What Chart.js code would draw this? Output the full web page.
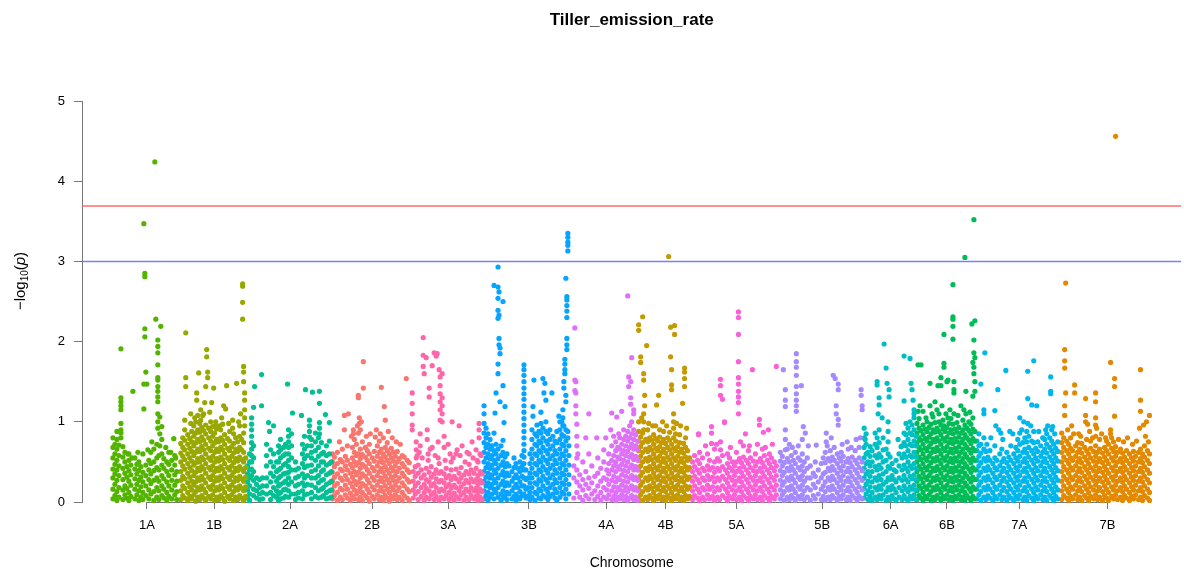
<!DOCTYPE html>
<html>
<head>
<meta charset="utf-8">
<script src="https://cdn.jsdelivr.net/npm/chart.js@4.4.1/dist/chart.umd.min.js"></script>
<style>
  html, body { margin: 0; padding: 0; background: #fff; }
  #wrap { width: 1184px; height: 572px; }
</style>
</head>
<body>
<div id="wrap"><canvas id="manhattan"></canvas></div>
<script>
const titleText = "Tiller_emission_rate";
const xLabel = "Chromosome";

const chromNames = ["1A", "1B", "2A", "2B", "3A", "3B", "4A", "4B", "5A", "5B", "6A", "6B", "7A", "7B"];
const chromLengths = [68, 67, 85, 80, 72, 90, 65, 54, 88, 84, 53, 60, 85, 92];
const chromColors = ["#53B400", "#99A800", "#00C094", "#F8766D", "#FF66A8", "#06A4FF", "#DF70F8",
  "#C49A00", "#FB61D7", "#A58AFF", "#00BFC4", "#00BC56", "#00B6EB", "#E38900"];
const yTicks = [0, 1, 2, 3, 4, 5];
const suggestiveLine = 3.0;
const genomewideLine = 3.69;

// each entry: [position within chromosome, -log10(p) of markers at that position...]
const chr1A = [[42,4.24],[31,3.47],[32,2.85,2.81],[43,2.28],[48,2.19],[32,2.16,2.06],[8,1.91],
  [45,2.02,1.94,1.86,1.71,1.55,1.52,1.44,1.38,1.31,1.25,1.1,1.0,.92],[33,1.62],[31,1.47,1.16],[34,1.47],[20,1.38],
  [8,1.3,1.25,1.2,1.15,.98,.9,.86,.8],[47,1.06,.85,.7],[49,.94,.78],[61,.79],[39,.75],
  [15,.6],[19,.55],[25,.62],[35,.65],[53,.68],[58,.62],[63,.55],
  [0,.04,.16,.3,.41,.55,.68,.8],[2,.08,.22,.35,.47,.6,.72],[4,.02,.13,.27,.4,.52,.66,.78,.88],[6,.06,.18,.33,.45,.58,.71],
  [10,.03,.15,.28,.42,.56,.69],[12,.09,.2,.36,.5,.62],[14,.05,.17,.31,.44],[16,.02,.12,.26,.39,.52,.6],[18,.07,.21,.34,.46],
  [22,.04,.16,.29,.41,.55],[24,.09,.22,.35,.47],[26,.02,.14,.27,.39,.5],[28,.06,.19,.31,.44],[30,.03,.12,.25,.37,.6],
  [33,.08,.2,.33,.46],[36,.04,.15,.28,.4,.52],[38,.1,.23,.35,.48,.62],[41,.02,.13,.27,.39,.5,.66],[44,.06,.18,.3,.43,.55,.72],
  [46,.03,.14,.26,.4,.58],[49,.08,.2,.33,.46,.6],[51,.05,.16,.29,.42,.54],[54,.02,.12,.25,.38,.5],[56,.07,.2,.33,.47,.62],
  [59,.04,.15,.27,.4,.52],[62,.09,.21,.34,.46,.58],[64,.03,.13,.26,.38]];

const chr1B = [[5,2.11],[62,2.72,2.69,2.49,2.28],[26,1.9,1.81],[5,1.55,1.44],[18,1.61],[27,1.62,1.55],[25,1.44],[33,1.42],
  [46,1.45],[56,1.48],[63,1.69,1.62,1.5],[64,1.36,1.27,1.15,1.05,.95],[16,1.36,1.27],[24,1.24],[31,1.24],[43,1.2],[45,1.16],
  [10,1.1,.98],[14,1.05],[20,1.15,1.02],[22,1.08],[29,1.12],[35,1.0,.96],[39,.95],[41,1.05],[48,.98],[52,.92,1.02],[58,1.0],[60,1.1],
  [0,.03,.14,.27,.38,.5,.61,.73],[2,.08,.2,.32,.45,.57,.68,.8],[4,.05,.17,.29,.41,.53,.65,.77,.9,1.02],[7,.02,.12,.24,.36,.48,.6,.72,.84],
  [9,.07,.19,.31,.43,.55,.67,.79],[11,.04,.15,.26,.39,.51,.63,.75,.88],[13,.09,.21,.33,.46,.58,.7,.82,.95],[15,.01,.13,.25,.37,.49,.62,.74,.86,1.0],
  [17,.06,.18,.3,.42,.54,.66,.78,.9,1.08],[19,.03,.15,.27,.39,.5,.63,.75,.87,.98],[21,.08,.2,.32,.44,.56,.69,.81,.93],
  [23,.05,.16,.28,.41,.53,.65,.77,.89,1.1],[25,.02,.12,.24,.36,.48,.6,.72,.85,.96],[28,.07,.19,.31,.43,.55,.67,.8,.92],
  [30,.04,.16,.28,.4,.52,.64,.76,.88,1.0],[32,.09,.21,.33,.45,.57,.7,.82,.94],[34,.02,.14,.26,.38,.5,.62,.74,.86],
  [36,.06,.18,.3,.42,.54,.66,.78,.91],[38,.03,.15,.27,.39,.51,.63,.75],[40,.08,.2,.32,.44,.56,.68,.8,.9],
  [42,.05,.17,.29,.41,.53,.65,.77,.97],[44,.01,.12,.24,.36,.48,.6,.72,.84],[47,.07,.19,.31,.43,.55,.67,.79],
  [49,.04,.16,.28,.4,.52,.64,.76,.88],[51,.09,.21,.33,.45,.57,.69],[53,.02,.13,.25,.37,.49,.61,.73,.85],
  [55,.06,.18,.3,.42,.54,.66,.8],[57,.03,.15,.27,.39,.51,.63,.75],[59,.08,.2,.32,.44,.56,.68,.82,.95],
  [61,.05,.17,.29,.41,.53,.65,.78],[63,.02,.14,.26,.38,.5,.62,.74,.86],[65,.07,.19,.31,.43,.55]];

const chr2A = [[14,1.59],[7,1.44],[40,1.47],[58,1.4],[65,1.37],[72,1.38],[14,1.2],[6,1.18],[45,1.11],[72,1.23],[54,1.08],[78,1.09],
  [62,1.02,.95,.88,.81],[72,.99,.92,.85],[82,.99,.76],[21,.99],[26,.95],[22,.88],
  [4,1.05,.97,.9,.82,.74,.66,.58,.5,.41,.33],[41,.9,.82,.75,.68,.6,.52,.44,.37,.3,.22,.14,.06],[44,.85,.7,.55,.4,.25,.1],
  [64,.78,.7,.62,.55,.46,.38,.3,.21,.12,.04],[68,.86,.75,.64,.52,.4,.3,.18,.07],[71,.8,.68,.57,.45,.33,.24,.14,.05],
  [74,.74,.6,.5,.38,.27,.16,.06],[19,.72,.58,.45,.3,.2,.1],[23,.65,.5,.36,.25,.12,.03],[26,.6,.44,.32,.18,.08],
  [0,.45,.35,.25,.15,.05],[2,.6,.5,.4,.3,.2,.1,.02],[6,.7,.55,.38,.27,.16,.08],[9,.3,.22,.14,.05],[12,.28,.18,.1,.03],
  [15,.3,.2,.12,.04],[29,.5,.38,.26,.14,.06],[31,.7,.62,.5,.4,.3,.2,.1,.02],[33,.78,.65,.55,.42,.32,.22,.12,.04],
  [36,.68,.58,.46,.35,.24,.15,.05],[38,.72,.6,.48,.36,.26,.16,.07],[48,.5,.4,.3,.2,.1,.03],[51,.42,.32,.22,.12,.05],
  [55,.72,.6,.48,.35,.24,.14,.04],[57,.82,.66,.54,.43,.3,.2,.09],[60,.7,.58,.45,.33,.22,.1],[76,.62,.5,.4,.28,.18,.08],
  [79,.7,.58,.46,.34,.22,.12,.04],[82,.6,.48,.36,.24,.14,.05],[84,.5,.38,.26,.15,.06]];

const chr2B = [[31,1.75],[74,1.54],[31,1.42],[49,1.43],[26,1.33,1.3],[52,1.19],[12,1.08],[16,1.1],[27,1.05,.98],[53,1.02],
  [7,.75],[43,.81],[12,.9],
  [21,.9,.85],[25,.95],[29,1.0],[34,.82],[38,.85],[44,.9],[48,.85],[56,.88],[60,.8],[64,.75],[68,.72],[19,.82],
  [0,.04,.14,.26,.37,.5,.6],[2,.08,.2,.31,.44,.56],[5,.02,.12,.23,.35,.48,.62],[8,.06,.17,.3,.41,.53],[10,.03,.15,.27,.39,.5,.66],
  [13,.09,.21,.33,.45,.57],[15,.05,.16,.28,.4,.52,.7],[18,.02,.11,.24,.36,.47],[20,.07,.19,.31,.43,.55,.68],
  [22,.04,.15,.26,.38,.5,.62,.78],[24,.1,.22,.34,.46,.58,.72],[26,.03,.13,.25,.37,.49,.6,.86],[28,.06,.18,.3,.42,.54,.66,.9],
  [30,.02,.12,.23,.35,.47,.59,.75],[33,.08,.2,.32,.44,.56,.68],[35,.05,.16,.28,.4,.52,.64],[37,.01,.12,.24,.36,.48,.6,.72],
  [40,.07,.19,.31,.43,.55],[42,.04,.15,.27,.39,.51,.63],[45,.09,.21,.33,.45,.57,.7],[47,.03,.14,.26,.38,.5,.62,.76],
  [49,.06,.18,.3,.42,.54,.66],[51,.02,.13,.25,.37,.49,.6,.8],[53,.08,.2,.32,.44,.56,.68],[55,.05,.16,.28,.4,.52,.64,.74],
  [57,.01,.12,.24,.36,.48,.6],[59,.07,.19,.31,.43,.55,.67],[61,.04,.15,.27,.39,.51,.62],[63,.09,.21,.33,.45,.57],
  [65,.03,.14,.26,.38,.5,.63],[67,.06,.18,.3,.42,.54],[70,.02,.12,.24,.36,.48,.58],[72,.08,.2,.32,.44,.56],
  [75,.05,.16,.28,.4,.52],[77,.02,.13,.25,.37,.49]];

const chr3A = [[11,2.05],[11,1.83,1.69],[14,1.8],[22,1.86],[24,1.82],[25,1.85],[20,1.7],[27,1.65],[30,1.6],[12,1.6],[17,1.42,1.31],
  [28,1.56,1.45,1.35,1.25,1.15,1.02],[30,1.3,1.2,1.1,1.0],[40,1.0],[47,.95],[0,1.36,1.23,1.1,.96,.9],[4,.75,.65,.55],[67,.98,.9,.8],
  [8,.85,.7],[15,.9,.78],[20,.68],[26,.75],[32,.82,.68],[36,.72],[44,.6],[50,.7],[55,.62],[60,.75],[64,.65],
  [5,.58],[7,.62],[10,.55],[16,.6,.52],[18,.66],[23,.58],[26,.55],[33,.52],[38,.6],[41,.55],[45,.65],[48,.58],[53,.5],[57,.6],[61,.55],[65,.52],[69,.58],
  [1,.05,.15,.26,.38],[3,.1,.2,.32,.44],[6,.03,.13,.24,.36,.46],[9,.07,.18,.3,.4],[12,.02,.12,.22,.34],[14,.06,.17,.28,.42],
  [17,.04,.14,.25,.37],[19,.09,.2,.31,.44],[22,.03,.12,.23,.35],[24,.07,.18,.29,.4],[27,.02,.13,.25,.36,.48],[29,.06,.16,.27,.38],
  [32,.04,.14,.24,.35],[34,.08,.19,.3,.42],[37,.03,.12,.22,.33],[39,.06,.17,.28,.4,.5],[42,.02,.11,.21,.32],[44,.07,.18,.29,.41],
  [47,.04,.14,.25,.36],[49,.09,.19,.3,.43],[52,.02,.12,.23,.34],[54,.06,.16,.27,.38],[57,.03,.13,.24,.35,.47],[59,.08,.18,.29,.4],
  [62,.04,.14,.25,.36],[64,.07,.17,.28,.42],[66,.02,.12,.22,.33,.5],[68,.06,.16,.27,.38,.6],[70,.03,.13,.24,.35]];

const chr3B = [[14,2.93],[10,2.7],[14,2.68],[15,2.62],[14,2.54],[19,2.5],[14,2.39],[15,2.33],[14,2.29],[15,2.04,1.96],[16,1.92,1.85],
  [14,1.72,1.6],[19,1.45],[12,1.36],[16,1.25],[21,1.19],[11,1.11],[20,.99],[10,.86],[19,.77],
  [40,1.71,1.65,1.58,1.5,1.42,1.35,1.28,1.2,1.12,1.04,.96,.88,.8,.72,.64,.56,.48,.4,.3,.2,.1],
  [50,1.52],[59,1.54],[61,1.48],[60,1.36],[62,1.27],[68,1.36],[49,1.19,1.07],[75,1.07],[78,1.0],
  [84,3.35,3.3,3.24,3.2,3.13],[82,2.79],[83,2.56,2.52,2.45,2.38,2.3],[83,2.04,1.96,1.9],[81,1.78,1.72,1.65,1.6],[80,1.5,1.42],
  [82,1.33,1.25],[79,1.15,1.05,.95],[84,.88,.8],
  [0,1.2,1.1,.98,.86,.74,.62,.5,.38,.26,.14,.04],[2,.92,.8,.68,.55,.43,.31,.2,.08],[4,.85,.72,.6,.48,.36,.24,.12,.02],
  [6,.78,.66,.54,.42,.3,.18,.06],[8,.7,.58,.46,.34,.22,.1],[10,.64,.52,.4,.28,.16,.04],[12,.72,.6,.48,.36,.24,.12],
  [14,.66,.54,.42,.3,.18,.06],[17,.7,.58,.46,.34,.22,.1,.02],[19,.62,.5,.38,.26,.14,.05],[21,.56,.44,.32,.2,.08],
  [23,.6,.48,.36,.24,.12,.03],[25,.45,.33,.21,.1],[28,.38,.26,.14,.04],[30,.55,.43,.3,.18,.07],[32,.48,.34,.22,.1,.02],
  [34,.42,.3,.18,.06],[36,.5,.38,.25,.13,.04],[38,.58,.44,.32,.2,.08],[42,.4,.28,.16,.05],[44,.3,.18,.07],
  [46,.6,.48,.36,.24,.12,.03],[48,.9,.78,.66,.54,.42,.3,.18,.06],[51,.85,.72,.6,.48,.36,.24,.12,.02],
  [53,.96,.82,.7,.58,.46,.34,.22,.1],[55,.88,.76,.64,.52,.4,.28,.16,.05],[57,1.12,.98,.86,.74,.62,.5,.38,.26,.14,.04],
  [59,.92,.8,.68,.56,.44,.32,.2,.08],[62,1.0,.88,.76,.64,.52,.4,.28,.16,.06],[64,.85,.72,.6,.48,.36,.24,.12,.03],
  [66,.9,.78,.66,.54,.42,.3,.18,.07],[69,.82,.7,.58,.46,.34,.22,.1],[71,.76,.64,.52,.4,.28,.16,.05],
  [73,.88,.74,.6,.48,.36,.24,.12,.02],[76,1.0,.9,.78,.66,.54,.42,.3,.18,.06],[78,.84,.72,.6,.48,.36,.24,.12],
  [80,.95,.82,.7,.58,.46,.34,.22,.1],[82,.9,.76,.64,.52,.4,.28,.16,.04],[85,.7,.58,.46,.34,.22,.1]];

const chr4A = [[54,2.57],[1,2.17],[58,1.8],[55,1.56,1.44],[57,1.5],[2,1.5,1.36],[2,1.2,1.1],[15,1.1],[38,1.11],[48,1.13],[43,1.06],
  [57,1.3,1.22],[60,1.15,1.1],[3,.97,.82],[37,.9],[45,.85],[40,.82],[12,.8],[23,.8],[32,.8],[1,1.52,1.39],[4,.6],
  [0,.05,.3,.45],[3,.12,.25,.4,.55,.7],[6,.06,.2,.34],[9,.02,.15,.28,.5],[12,.08,.22,.38],[15,.04,.17,.3,.6],[18,.1,.24,.45],
  [21,.03,.14,.32],[24,.07,.2,.36,.55],[27,.02,.12,.26,.42],[30,.06,.18,.3,.5,.65],[33,.04,.15,.28,.4],[35,.09,.22,.35,.48,.6],
  [38,.03,.14,.27,.4,.52,.7],[40,.07,.19,.32,.45,.58],[42,.02,.12,.25,.38,.5,.64,.75],[44,.06,.18,.3,.44,.56,.68],
  [46,.04,.15,.28,.41,.54,.66,.8],[48,.09,.21,.34,.47,.6,.72],[50,.03,.14,.26,.39,.52,.64,.78,.9],[52,.07,.19,.32,.45,.58,.7,.82],
  [54,.02,.13,.25,.38,.5,.63,.76,.88],[56,.05,.17,.3,.43,.56,.68,.8,.95],[58,.08,.2,.33,.46,.59,.72,.85,1.0],
  [60,.03,.15,.28,.4,.53,.66,.78,.9],[62,.06,.18,.31,.44,.57,.7,.84],[64,.02,.14,.27,.4,.52,.65,.76]];

const chr4B = [[30,3.06],[4,2.31],[0,2.21,2.14],[32,2.18],[36,2.2,2.09],[8,1.95],[2,1.81,1.74],[32,1.81],[5,1.6,1.52],[33,1.65],
  [46,1.67,1.62,1.54,1.44],[33,1.46,1.4],[6,1.33,1.2],[20,1.33],[18,1.21],[44,1.23],[35,1.1,1.0,.92],[5,1.1,1.0,.9],
  [3,1.05],[10,.98],[14,.95],[24,1.0],[28,.95],[38,.98],[42,.95],[48,.92],
  [0,.04,.16,.28,.4,.52,.64,.76,.88,1.0],[2,.09,.21,.33,.45,.57,.69,.81],[4,.02,.13,.25,.37,.5,.62,.74,.86],
  [7,.06,.18,.3,.42,.54,.66,.78],[9,.03,.15,.27,.39,.51,.63,.75,.9],[11,.08,.2,.32,.44,.56,.68,.8],[13,.05,.17,.29,.41,.53,.65,.77],
  [15,.02,.12,.24,.36,.48,.6,.72,.84],[17,.07,.19,.31,.43,.55,.67,.79,.95],[19,.04,.16,.28,.4,.52,.64,.76],
  [21,.09,.21,.33,.45,.57,.69,.81,.9],[23,.03,.14,.26,.38,.5,.62,.74],[25,.06,.18,.3,.42,.54,.66,.78,.88],
  [27,.02,.13,.25,.37,.49,.61,.73],[29,.08,.2,.32,.44,.56,.68,.8],[31,.05,.17,.29,.41,.53,.65,.77,.87],[33,.02,.12,.24,.36,.48,.6,.72],
  [35,.07,.19,.31,.43,.55,.67,.8],[37,.04,.16,.28,.4,.52,.64,.76,.85],[39,.09,.21,.33,.45,.57,.69],[41,.03,.14,.26,.38,.5,.62,.74,.84],
  [43,.06,.18,.3,.42,.54,.66],[45,.02,.13,.25,.37,.49,.61,.73],[47,.08,.2,.32,.44,.56,.68,.8],[49,.04,.16,.28,.4,.52,.64],
  [51,.07,.19,.31,.43,.55]];

const chr5A = [[46,2.37,2.3,2.09,1.75,1.55,1.47,1.38,1.31,1.24,1.1],[60,1.65],[84,1.69],[28,1.53,1.45,1.33],[30,1.28],[32,.99,1.0],
  [67,1.03,.96],[19,.94,.86,.73],[53,.85],[76,.9],[71,.87],[6,.85,.84],[28,.75,.65],
  [13,.7],[24,.72],[38,.68],[48,.75],[57,.7],[73,.68],[80,.72],
  [0,.03,.14,.26,.38,.5],[2,.08,.2,.32,.44,.58],[5,.05,.16,.28,.4,.52],[7,.02,.12,.24,.36,.48,.62],[10,.06,.18,.3,.42,.55],
  [12,.03,.15,.27,.39],[15,.09,.21,.33,.45,.6],[17,.04,.16,.28,.4,.52],[20,.07,.19,.31,.43],[22,.02,.13,.25,.37,.5,.66],
  [25,.06,.18,.3,.42,.54],[27,.03,.15,.27,.39,.51],[30,.08,.2,.32,.44,.58],[33,.05,.16,.28,.4],[35,.02,.12,.24,.36,.48,.6],
  [37,.07,.19,.31,.43,.55],[40,.04,.15,.27,.39,.5],[42,.09,.21,.33,.45],[44,.03,.14,.26,.38,.5,.62],[47,.06,.18,.3,.42,.54],
  [49,.02,.13,.25,.37,.49],[51,.08,.2,.32,.44,.56,.7],[54,.05,.16,.28,.4,.52],[56,.02,.12,.24,.36,.48,.64],[58,.07,.19,.31,.43,.55],
  [61,.04,.15,.27,.39,.51],[63,.09,.21,.33,.45,.6],[65,.03,.14,.26,.38,.5,.72],[68,.06,.18,.3,.42,.54],[70,.02,.13,.25,.37,.49,.66],
  [72,.08,.2,.32,.44,.58],[75,.05,.16,.28,.4,.52],[77,.02,.12,.24,.36,.48,.6],[79,.07,.19,.31,.43,.55],[82,.04,.15,.27,.39,.5],
  [84,.09,.21,.33,.45]];

const chr5B = [[16,1.85,1.75,1.68,1.58,1.44,1.35,1.27,1.2,1.13],[3,1.65],[53,1.58],[55,1.54],[58,1.47,1.4],[21,1.45],[5,1.4,1.27,1.19],
  [56,1.2,1.1],[58,1.03,.96],[81,1.4,1.33],[82,1.2,1.15],[23,.94],[25,.86],[36,.71],[46,.86,.75],[5,.9,.78,.65],
  [9,.72],[12,.68],[28,.7],[47,.7],[51,.8],[62,.72],[67,.75],[71,.68],[76,.78],[80,.8],
  [0,.04,.15,.27,.39,.51,.62],[2,.09,.21,.33,.45,.57],[4,.02,.13,.25,.37,.49],[7,.06,.18,.3,.42,.54,.66],[9,.03,.15,.27,.39,.5],
  [11,.08,.2,.32,.44,.58],[13,.05,.16,.28,.4,.52],[15,.02,.12,.24,.36,.48,.62],[18,.07,.19,.31,.43,.55,.7],[20,.04,.16,.28,.4,.52],
  [22,.09,.21,.33,.45,.6,.78],[24,.03,.14,.26,.38,.5],[27,.06,.18,.3,.42,.55],[30,.02,.15,.3,.45],[33,.08,.22,.36],[35,.04,.18,.32,.5],
  [38,.1,.25,.4],[41,.03,.16,.3,.48],[43,.07,.2,.35,.55],[45,.02,.13,.25,.37,.49,.62],[48,.06,.18,.3,.42,.54],
  [50,.03,.15,.27,.39,.51,.64],[52,.08,.2,.32,.44,.56],[54,.05,.16,.28,.4,.52,.68],[57,.02,.12,.24,.36,.48,.6],
  [59,.07,.19,.31,.43,.55],[61,.04,.15,.27,.39,.51,.62],[63,.09,.21,.33,.45,.57],[66,.03,.14,.26,.38,.5],[68,.06,.18,.3,.42,.54,.66],
  [70,.02,.13,.25,.37,.49],[72,.08,.2,.32,.44,.56],[75,.05,.16,.28,.4,.52,.64],[77,.02,.12,.24,.36,.48],[79,.07,.19,.31,.43,.55,.68],
  [82,.04,.15,.27,.39,.5]];

const chr6A = [[20,1.97],[40,1.82],[46,1.79],[22,1.67],[13,1.5,1.46],[23,1.48],[25,1.4,1.31],[47,1.48],[48,1.4],[49,1.27],[15,1.3,1.21],
  [40,1.26],[50,1.15,1.1,1.05],[14,1.1],[18,1.05],[24,1.0],[1,.78],[6,.69],[34,.78],[37,.69],
  [0,.05,.17,.3,.42,.55,.68,.8,.92],[2,.1,.22,.35,.48,.6,.72,.85],[4,.03,.14,.26,.38,.5,.62],[6,.07,.19,.32,.45,.57],
  [8,.02,.12,.25,.38,.5,.64],[11,.06,.18,.3,.44,.58,.72,.86],[13,.03,.15,.27,.4,.55,.68,.8],[15,.08,.2,.33,.46,.6,.74,.9],
  [17,.04,.16,.28,.42,.56],[19,.09,.22,.35,.5,.65,.8],[22,.02,.13,.25,.38,.52,.66],[24,.06,.18,.3,.44,.6,.75,.88],
  [26,.03,.15,.28,.42,.56],[28,.08,.2,.33,.48],[30,.04,.16,.28,.4],[32,.02,.12,.25,.38,.52],[35,.06,.18,.3,.45,.6],
  [38,.03,.14,.27,.4,.55,.7],[40,.08,.2,.33,.46,.6,.74,.86],[42,.04,.16,.28,.42,.56,.7,.84,.98],[44,.02,.13,.25,.38,.5,.64,.78,.92],
  [46,.07,.19,.32,.45,.58,.72,.86,1.0],[48,.04,.16,.29,.42,.56,.7,.84,.96],[50,.09,.21,.34,.48,.62,.76,.9],
  [52,.03,.15,.28,.42,.56,.7,.82]];

const chr6B = [[57,3.52],[48,3.05],[36,2.71],[36,2.31,2.28,2.19,2.03],[27,2.09],[58,2.26],[55,2.22],[57,2.02,1.86],[58,1.8],[56,1.74],
  [57,1.68,1.6],[58,1.5],[27,1.73,1.68],[24,1.55],[31,1.52],[37,1.5],[30,1.5],[13,1.48],[21,1.45],[24,1.45],[37,1.4,1.36],[49,1.38],
  [58,1.38],[56,1.32],[1,1.71],[4,1.71],[1,1.13],[6,1.13],[22,1.1],[31,1.05],[37,1.1],[27,.95],[49,1.1],[13,1.2],[18,1.25],[44,1.2],
  [3,1.2],[9,1.05],[15,1.1],[20,1.15],[25,1.2],[29,1.1],[33,1.15],[41,1.08],[47,1.15],[53,1.12],
  [0,.03,.14,.26,.38,.5,.62,.74,.86,.98],[2,.08,.2,.32,.44,.56,.68,.8,.92,1.04],[4,.05,.17,.29,.41,.53,.65,.77,.89],
  [6,.02,.12,.24,.36,.48,.6,.72,.84,.96],[8,.07,.19,.31,.43,.55,.67,.79,.91],[10,.04,.16,.28,.4,.52,.64,.76,.88,1.0],
  [12,.09,.21,.33,.45,.57,.69,.81,.93],[14,.02,.13,.25,.37,.49,.61,.73,.85,.97],[16,.06,.18,.3,.42,.54,.66,.78,.9,1.06],
  [18,.03,.15,.27,.39,.51,.63,.75,.87,.99],[20,.08,.2,.32,.44,.56,.68,.8,.92],[22,.05,.16,.28,.4,.52,.64,.76,.88,1.0],
  [24,.02,.12,.24,.36,.48,.6,.72,.84,.96],[26,.07,.19,.31,.43,.55,.67,.79,.91,1.02],[28,.04,.16,.28,.4,.52,.64,.76,.88],
  [30,.09,.21,.33,.45,.57,.69,.81,.93],[32,.03,.14,.26,.38,.5,.62,.74,.86,.98],[34,.06,.18,.3,.42,.54,.66,.78,.9,1.04],
  [36,.02,.13,.25,.37,.49,.61,.73,.85,.97],[38,.07,.19,.31,.43,.55,.67,.79,.91],[40,.04,.15,.27,.39,.51,.63,.75,.87,.99],
  [42,.09,.21,.33,.45,.57,.69,.81,.93],[44,.03,.14,.26,.38,.5,.62,.74,.86],[46,.06,.18,.3,.42,.54,.66,.78,.9,1.02],
  [48,.02,.12,.24,.36,.48,.6,.72,.84,.96],[50,.08,.2,.32,.44,.56,.68,.8,.92],[52,.05,.17,.29,.41,.53,.65,.77,.89,1.0],
  [54,.02,.13,.25,.37,.49,.61,.73,.85,.97],[56,.07,.19,.31,.43,.55,.67,.79,.91,1.05],[58,.04,.16,.28,.4,.52,.64,.76,.88]];

const chr7A = [[8,1.86],[57,1.76],[29,1.64],[51,1.63],[74,1.56],[4,1.47],[21,1.4],[74,1.38,1.35],[51,1.29],[55,1.21],[60,1.2],[18,1.14],
  [7,1.15,1.1],[33,.88],[43,1.05],[47,1.0],[51,.98],[54,.95],[19,.95],[22,.9],[24,.86],[71,.95],[76,.94],
  [10,.72],[14,.8],[26,.78],[36,.85],[45,.9],[62,.88],[69,.9],[78,.85],
  [0,.04,.16,.28,.4,.52,.64,.76],[2,.09,.21,.33,.45,.57,.7,.85],[4,.02,.13,.25,.37,.49,.61,.72],[7,.06,.18,.3,.42,.54,.66,.8],
  [9,.03,.15,.27,.39,.51,.63],[11,.08,.2,.32,.44,.56],[13,.05,.16,.28,.4,.52,.64],[16,.02,.12,.24,.36,.48],[18,.07,.19,.31,.43,.55,.7],
  [20,.04,.16,.28,.4,.52],[23,.09,.21,.33,.45,.6],[25,.03,.14,.26,.38,.5,.66],[27,.06,.18,.3,.42,.54],[30,.02,.13,.25,.37,.49,.62],
  [32,.08,.2,.32,.44,.56],[34,.05,.16,.28,.4,.52,.7],[37,.02,.12,.24,.36,.48,.6],[39,.07,.19,.31,.43,.55,.68],
  [41,.04,.15,.27,.39,.51,.64,.78],[43,.09,.21,.33,.45,.57,.72,.86],[46,.03,.14,.26,.38,.5,.62,.74],[48,.06,.18,.3,.42,.54,.66,.8],
  [50,.02,.13,.25,.37,.49,.61,.75,.88],[52,.08,.2,.32,.44,.56,.68,.82],[55,.05,.16,.28,.4,.52,.64,.76],
  [57,.02,.12,.24,.36,.48,.6,.74,.88],[59,.07,.19,.31,.43,.55,.67],[61,.04,.15,.27,.39,.51,.63,.75],[64,.09,.21,.33,.45,.57,.7],
  [66,.03,.14,.26,.38,.5,.62,.8],[68,.06,.18,.3,.42,.54,.66,.78],[70,.02,.13,.25,.37,.49,.61,.72,.85],[73,.08,.2,.32,.44,.56,.68,.8],
  [75,.05,.16,.28,.4,.52,.64,.76,.9],[77,.02,.12,.24,.36,.48,.6,.72],[79,.07,.19,.31,.43,.55,.67],[81,.04,.15,.27,.39,.51,.63,.75]];

const chr7B = [[54,4.56],[4,2.73],[3,1.9,1.76,1.67],[49,1.74],[79,1.65],[53,1.54,1.44],[13,1.46,1.36],[4,1.36],[24,1.29],[34,1.36,1.25],
  [79,1.27,1.13],[3,1.2,1.08],[53,1.07],[88,1.08],[85,1.0],[82,.96],[78,.92],[24,1.08,1.0],[26,.97],[34,1.05,.96],[35,.92],[12,.85],
  [17,.85],[49,.9,.85],
  [6,.9],[10,.95],[19,.82],[28,.88],[31,.8],[40,.85],[44,.8],[57,.78],[62,.75],[66,.8],[71,.72],[75,.76],[84,.82],[87,.75],
  [0,.03,.14,.26,.38,.5,.62,.74,.86],[2,.08,.2,.32,.44,.56,.68,.8],[5,.05,.16,.28,.4,.52,.64,.76],[7,.02,.12,.24,.36,.48,.6,.72],
  [9,.07,.19,.31,.43,.55,.67,.8],[11,.04,.16,.28,.4,.52,.64],[14,.09,.21,.33,.45,.57,.7],[16,.03,.14,.26,.38,.5,.62,.74],
  [18,.06,.18,.3,.42,.54,.66],[20,.02,.13,.25,.37,.49,.61,.73],[23,.08,.2,.32,.44,.56,.68],[25,.05,.16,.28,.4,.52,.64,.78],
  [27,.02,.12,.24,.36,.48,.6],[29,.07,.19,.31,.43,.55,.67,.76],[32,.04,.15,.27,.39,.51,.63],[34,.09,.21,.33,.45,.57,.7,.82],
  [36,.03,.14,.26,.38,.5,.62],[38,.06,.18,.3,.42,.54,.66,.78],[41,.02,.13,.25,.37,.49,.61],[43,.08,.2,.32,.44,.56,.68],
  [45,.05,.16,.28,.4,.52,.64,.76],[47,.02,.12,.24,.36,.48,.6,.72],[50,.07,.19,.31,.43,.55,.67,.8],[52,.04,.15,.27,.39,.51,.63,.75],
  [54,.09,.21,.33,.45,.57,.69],[56,.03,.14,.26,.38,.5,.62],[59,.06,.18,.3,.42,.54,.66],[61,.02,.13,.25,.37,.49,.61],
  [63,.08,.2,.32,.44,.56],[65,.05,.16,.28,.4,.52,.64],[68,.02,.12,.24,.36,.48,.6],[70,.07,.19,.31,.43,.55],
  [72,.04,.15,.27,.39,.51,.63],[74,.09,.21,.33,.45,.57],[77,.03,.14,.26,.38,.5,.62],[79,.06,.18,.3,.42,.54,.66],
  [81,.02,.13,.25,.37,.49,.6],[83,.08,.2,.32,.44,.56,.7],[86,.05,.16,.28,.4,.52,.64],[88,.02,.12,.24,.36,.48,.6]];

const chromData = [chr1A, chr1B, chr2A, chr2B, chr3A, chr3B, chr4A, chr4B, chr5A, chr5B, chr6A, chr6B, chr7A, chr7B];

// x range pads the genome on both sides like base R does
const xMin = -31, xMax = 1071;

const FONT = '"Liberation Sans", Arial, Helvetica, sans-serif';

let datasets = [];
let centers = [];
let offset = 0;
chromNames.forEach((name, i) => {
  const pts = [];
  chromData[i].forEach(([pos, ...vals]) => vals.forEach(v => pts.push({ x: offset + pos, y: v })));
  datasets.push({
    type: "scatter",
    label: name,
    data: pts,
    backgroundColor: chromColors[i],
    borderWidth: 0,
    pointRadius: 2.6,
    pointHoverRadius: 2.6,
    clip: false
  });
  centers.push(offset + chromLengths[i] / 2);
  offset += chromLengths[i];
});

function hline(y, color) {
  return {
    type: "line",
    data: [{ x: xMin, y }, { x: xMax, y }],
    borderColor: color,
    borderWidth: 1.5,
    pointRadius: 0,
    order: -1
  };
}
datasets.push(hline(genomewideLine, "rgba(255,80,80,0.85)"));
datasets.push(hline(suggestiveLine, "rgba(110,110,255,0.9)"));

const texts = {
  id: "texts",
  beforeDatasetsDraw(chart) {
    // x axis line runs from the first to the last chromosome tick, as in base R
    const { ctx, chartArea: a, scales: { x } } = chart;
    const t = x.ticks;
    ctx.save();
    ctx.strokeStyle = "#777";
    ctx.lineWidth = 1;
    ctx.beginPath();
    ctx.moveTo(x.getPixelForValue(t[0].value), a.bottom + 0.5);
    ctx.lineTo(x.getPixelForValue(t[t.length - 1].value), a.bottom + 0.5);
    ctx.stroke();
    ctx.restore();
  },
  afterDraw(chart) {
    const { ctx, chartArea: a } = chart;
    const cx = (a.left + a.right) / 2;
    ctx.save();
    ctx.fillStyle = "#000";
    ctx.textAlign = "center";
    ctx.textBaseline = "middle";
    ctx.font = "bold 17px " + FONT;
    ctx.fillText(titleText, cx, 20);
    ctx.font = "14px " + FONT;
    ctx.fillText(xLabel, cx, a.bottom + 61);

    // -log10(p) with subscript and italic p
    const parts = [
      { s: "\u2212log", f: "15px " + FONT, dy: 0 },
      { s: "10", f: "10px " + FONT, dy: 4 },
      { s: "(", f: "15px " + FONT, dy: 0 },
      { s: "p", f: "italic 15px " + FONT, dy: 0 },
      { s: ")", f: "15px " + FONT, dy: 0 }
    ];
    let total = 0;
    parts.forEach(p => { ctx.font = p.f; p.w = ctx.measureText(p.s).width; total += p.w; });
    ctx.translate(21, 281);
    ctx.rotate(-Math.PI / 2);
    ctx.textAlign = "left";
    let px = -total / 2;
    parts.forEach(p => {
      ctx.font = p.f;
      ctx.fillText(p.s, px, p.dy);
      px += p.w;
    });
    ctx.restore();
  }
};

new Chart(document.getElementById("manhattan"), {
  data: { datasets },
  options: {
    responsive: true,
    maintainAspectRatio: false,
    animation: false,
    events: [],
    layout: { padding: { top: 101, left: 0, right: 0, bottom: 0 } },
    plugins: { legend: { display: false }, tooltip: { enabled: false }, title: { display: false } },
    scales: {
      x: {
        type: "linear",
        min: xMin,
        max: xMax,
        afterBuildTicks: s => { s.ticks = centers.map(v => ({ value: v })); },
        afterFit: s => { s.height = 70; },
        ticks: {
          autoSkip: false,
          maxRotation: 0,
          padding: 9,
          color: "#000",
          font: { family: FONT, size: 13 },
          callback: (v, i) => chromNames[i]
        },
        grid: { display: true, drawOnChartArea: false, drawTicks: true, tickLength: 7, color: "#777" },
        border: { display: false }
      },
      y: {
        type: "linear",
        min: 0,
        max: 5,
        afterBuildTicks: s => { s.ticks = yTicks.map(v => ({ value: v })); },
        afterFit: s => { s.width = 82; },
        ticks: { padding: 9, color: "#000", font: { family: FONT, size: 13 } },
        grid: { display: true, drawOnChartArea: false, drawTicks: true, tickLength: 8, color: "#777" },
        border: { display: true, color: "#777" }
      }
    }
  },
  plugins: [texts]
});
</script>
</body>
</html>
